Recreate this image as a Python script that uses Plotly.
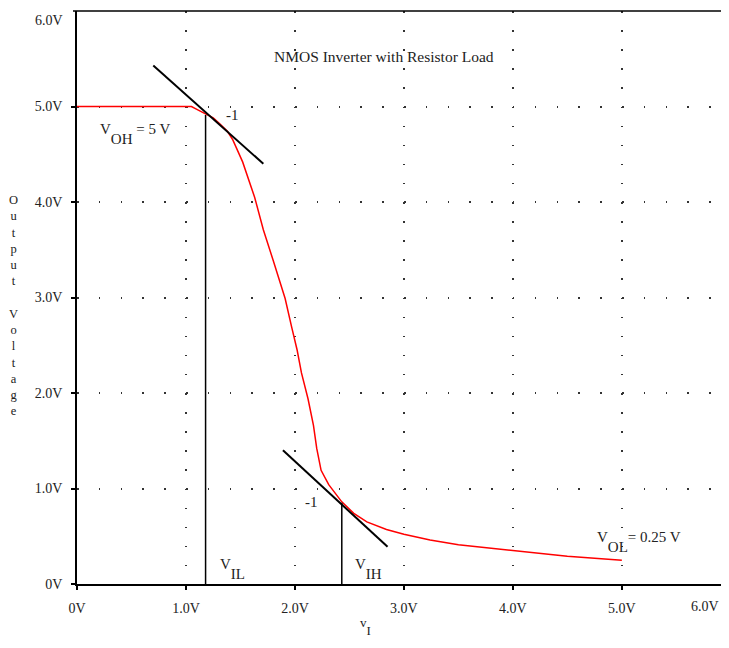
import plotly.graph_objects as go

# Transfer characteristic (vI, vO)
v_in = [0, 1.0, 1.05, 1.1, 1.17, 1.25, 1.31, 1.38, 1.43, 1.52, 1.63, 1.71, 1.80, 1.86,
        1.91, 1.97, 2.02, 2.06, 2.12, 2.17, 2.20, 2.24, 2.31, 2.43, 2.54, 2.66, 2.84,
        3.0, 3.24, 3.5, 4.0, 4.25, 4.5, 5.0]
v_out = [5.0, 5.0, 5.0, 4.97, 4.93, 4.88, 4.82, 4.74, 4.65, 4.42, 4.05, 3.71, 3.39, 3.18,
         2.99, 2.69, 2.45, 2.21, 1.94, 1.66, 1.42, 1.19, 1.04, 0.86, 0.74, 0.65, 0.57,
         0.52, 0.46, 0.41, 0.35, 0.32, 0.29, 0.25]

# Tangent lines with slope -1
tan1_x = [0.70, 1.71]
tan1_y = [5.43, 4.40]
tan2_x = [1.89, 2.85]
tan2_y = [1.40, 0.39]

# V_IL and V_IH markers
vil_x = [1.18, 1.18]
vil_y = [0.0, 4.91]
vih_x = [2.43, 2.43]
vih_y = [0.0, 0.85]

x_ticks = [0, 1, 2, 3, 4, 5]
x_tick_labels = ["0V", "1.0V", "2.0V", "3.0V", "4.0V", "5.0V"]
y_ticks = [0, 1, 2, 3, 4, 5]
y_tick_labels = ["0V", "1.0V", "2.0V", "3.0V", "4.0V", "5.0V"]
end_label = "6.0V"

FONT = "Liberation Serif"
TXT = "#222222"
SUB = '<span style="baseline-shift:-10px">{}</span>'

fig = go.Figure()
fig.add_trace(go.Scatter(x=v_in, y=v_out, mode="lines",
                         line=dict(color="#ff0000", width=1.5), hoverinfo="skip"))
for xs, ys, w in [(tan1_x, tan1_y, 2), (tan2_x, tan2_y, 2), (vil_x, vil_y, 1.5), (vih_x, vih_y, 1.5)]:
    fig.add_trace(go.Scatter(x=xs, y=ys, mode="lines",
                             line=dict(color="black", width=w), hoverinfo="skip"))

def ann(text, x, y, xanchor="left", yanchor="middle", size=15, **kw):
    fig.add_annotation(text=text, x=x, y=y, xref="x", yref="y", showarrow=False,
                       xanchor=xanchor, yanchor=yanchor,
                       font=dict(family=FONT, size=size, color=TXT), **kw)

ann("NMOS Inverter with Resistor Load", 2.82, 5.52, xanchor="center", size=15.5)
ann("V" + SUB.format("OH") + " = 5 V", 0.19, 4.71)
ann("-1", 1.35, 4.91)
ann("-1", 2.07, 0.86)
ann("V" + SUB.format("IL"), 1.29, 0.16)
ann("V" + SUB.format("IH"), 2.53, 0.16)
ann("V" + SUB.format("OL") + "= 0.25 V", 4.75, 0.44)

# axis titles
fig.add_annotation(text="v" + '<span style="baseline-shift:-8px">I</span>', x=2.58, y=0,
                   xref="x", yref="paper", xanchor="left",
                   yanchor="top", yshift=-29, showarrow=False,
                   font=dict(family=FONT, size=13, color=TXT))
fig.add_annotation(text="<br>".join(list("Output Voltage")), x=0, y=2.92,
                   xref="paper", yref="y", xshift=-64, showarrow=False,
                   xanchor="center", yanchor="middle",
                   font=dict(family=FONT, size=12.5, color=TXT))
# axis end labels (kept inside the page)
fig.add_annotation(text=end_label, x=1, y=0, xref="paper", yref="paper",
                   xanchor="right", yanchor="top", yshift=-13, xshift=0, showarrow=False,
                   font=dict(family=FONT, size=14, color=TXT))
fig.add_annotation(text=end_label, x=0, y=1, xref="paper", yref="paper",
                   xanchor="right", yanchor="top", yshift=0, xshift=-12, showarrow=False,
                   font=dict(family=FONT, size=14, color=TXT))
# tick mark for the top of y axis
fig.add_shape(type="line", xref="paper", yref="paper", x0=-4, x1=0, y0=1, y1=1,
              xsizemode="pixel", xanchor=0, line=dict(color="black", width=1.5))
# top border
fig.add_shape(type="line", xref="paper", yref="paper", x0=0, x1=1, y0=1, y1=1,
              line=dict(color="black", width=1.5))

# page body has an 8px margin; figure sized so the page fits the window
fig.update_layout(
    width=713, height=632,
    margin=dict(l=69, r=0, t=3, b=56),
    paper_bgcolor="white", plot_bgcolor="white",
    showlegend=False,
    font=dict(family=FONT, size=14, color=TXT),
    xaxis=dict(range=[0, 5.91], tickvals=x_ticks, ticktext=x_tick_labels,
               showline=True, linecolor="black", linewidth=1.5,
               ticks="outside", ticklen=4, tickcolor="black", tickwidth=1.5,
               ticklabelstandoff=6,
               showgrid=True, gridcolor="#333333", gridwidth=1.5,
               griddash="1.5px,17.6px", zeroline=False, fixedrange=True),
    yaxis=dict(range=[0, 6], tickvals=y_ticks, ticktext=y_tick_labels,
               showline=True, linecolor="black", linewidth=1.5,
               ticks="outside", ticklen=4, tickcolor="black", tickwidth=1.5,
               ticklabelstandoff=6,
               showgrid=True, gridcolor="#333333", gridwidth=1.5,
               griddash="1.5px,20.3px", zeroline=False, fixedrange=True),
)

fig.write_html("out.html")
